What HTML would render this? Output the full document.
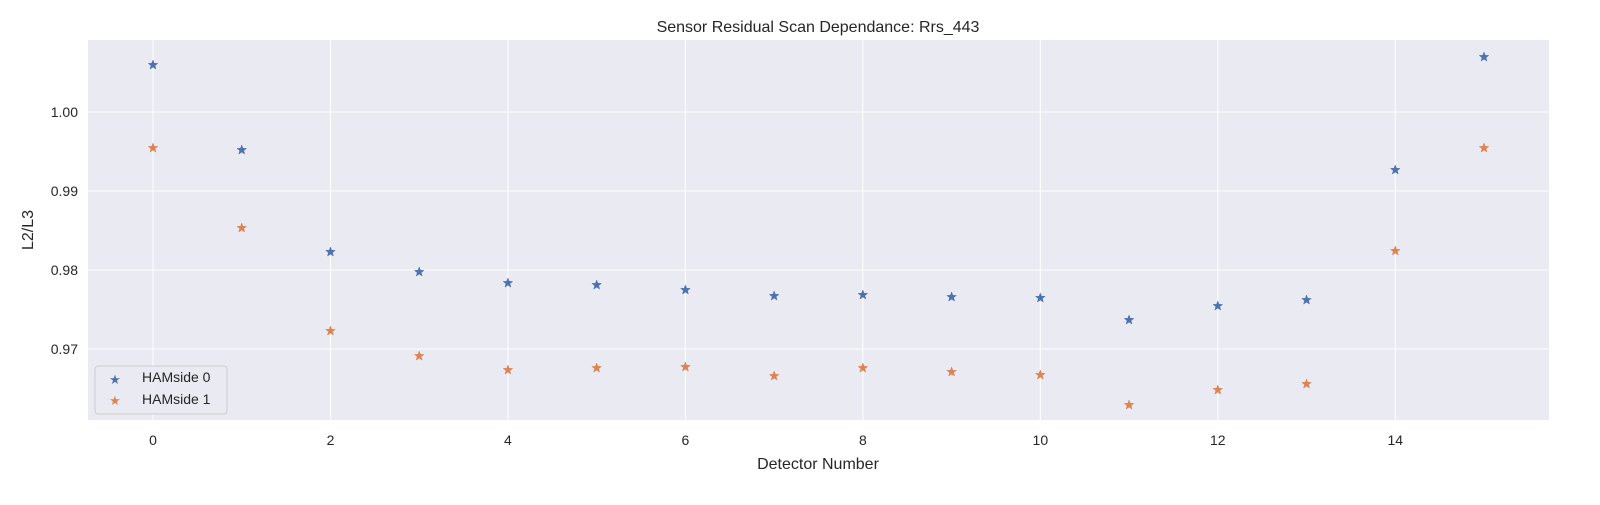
<!DOCTYPE html>
<html><head><meta charset="utf-8"><style>
body{margin:0;background:#fff;font-family:"Liberation Sans","DejaVu Sans",sans-serif}
</style></head><body>
<svg id="chart" width="1600" height="500" xmlns="http://www.w3.org/2000/svg" font-family="Liberation Sans, DejaVu Sans, sans-serif">
<rect x="0" y="0" width="1600" height="500" fill="#fff"/>
<rect x="88" y="40" width="1461" height="380" fill="#eaeaf2"/>
<g id="grid"></g><g id="ticks"></g><g id="marks"></g>
<text x="818" y="32" text-anchor="middle" font-size="16" fill="#262626">Sensor Residual Scan Dependance: Rrs_443</text>
<text x="818" y="469" text-anchor="middle" font-size="16" fill="#262626">Detector Number</text>
<text transform="translate(33,230) rotate(-90)" text-anchor="middle" font-size="16" fill="#262626">L2/L3</text>
<g>
<rect x="95" y="366" width="132" height="48" rx="3" fill="#eaeaf2" stroke="#cccccc" opacity="0.9"/>
<text x="115" y="384" text-anchor="middle" font-size="13" fill="#4c72b0">★</text>
<text x="142" y="382" font-size="14" fill="#262626">HAMside 0</text>
<text x="115" y="405" text-anchor="middle" font-size="13" fill="#dd8452">★</text>
<text x="142" y="404" font-size="14" fill="#262626">HAMside 1</text>
</g>
</svg>
<script>
const detectors=[0,1,2,3,4,5,6,7,8,9,10,11,12,13,14,15];
const ham0=[1.00595,0.99519,0.98228,0.97975,0.97835,0.97810,0.97747,0.97671,0.97684,0.97658,0.97646,0.97367,0.97544,0.97620,0.99266,1.00696];
const ham1=[0.99544,0.98532,0.97228,0.96911,0.96734,0.96759,0.96772,0.96658,0.96759,0.96709,0.96671,0.96291,0.96481,0.96557,0.98241,0.99544];
const xTicks=[0,2,4,6,8,10,12,14];
const yTicks=[0.97,0.98,0.99,1.00];
const yTickLabels=["0.97","0.98","0.99","1.00"];
const NS="http://www.w3.org/2000/svg";
const X=v=>153+v*(1484-153)/15;
const Y=v=>112-(v-1.0)*7900;
function mk(t,a,p){const e=document.createElementNS(NS,t);for(const k in a)e.setAttribute(k,a[k]);p.appendChild(e);return e;}
const grid=document.getElementById('grid'),ticks=document.getElementById('ticks'),marks=document.getElementById('marks');
xTicks.forEach(v=>{
const l=mk('line',{x1:X(v),x2:X(v),y1:40,y2:420,stroke:'#fff','stroke-width':1},grid);


const t=mk('text',{x:X(v),y:445,'text-anchor':'middle','font-size':14,fill:'#262626'},ticks);t.textContent=v;


});
yTicks.forEach((v,i)=>{
const l=mk('line',{x1:88,x2:1549,y1:Y(v),y2:Y(v),stroke:'#fff','stroke-width':1},grid);


const t=mk('text',{x:78,y:Y(v)+5,'text-anchor':'end','font-size':14,fill:'#262626'},ticks);t.textContent=yTickLabels[i];


});
function star(cx,cy,r,color){
let pts=[];for(let i=0;i<10;i++){const a=-Math.PI/2+i*Math.PI/5;const rr=i%2?r*0.42:r;pts.push((cx+rr*Math.cos(a)).toFixed(2)+','+(cy+rr*Math.sin(a)).toFixed(2));}
return mk('polygon',{points:pts.join(' '),fill:color,stroke:color,'stroke-width':0.5},marks);
}
detectors.forEach((d,i)=>{
const a=star(X(d),Y(ham0[i]),5,'#4c72b0');


const b=star(X(d),Y(ham1[i]),5,'#dd8452');


});
</script>
</body></html>
